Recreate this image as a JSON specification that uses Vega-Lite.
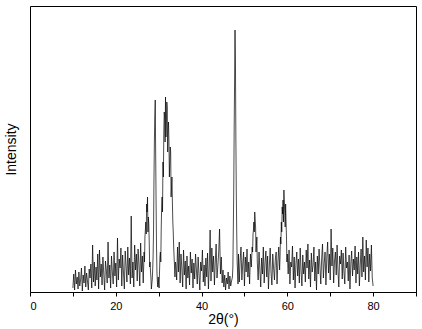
{
  "$schema": "https://vega.github.io/schema/vega-lite/v6.json",
  "width": 386,
  "height": 286,
  "autosize": {"type": "none"},
  "padding": {"left": 30, "top": 6, "right": 6, "bottom": 37},
  "background": "white",
  "config": {
    "view": {"stroke": "black", "strokeWidth": 1},
    "font": "Liberation Sans"
  },
  "data": {"values": [
    {"x":10.0,"y":4},{"x":10.2,"y":18},{"x":10.4,"y":2},{"x":10.6,"y":22},{"x":10.8,"y":8},
    {"x":11.0,"y":15},{"x":11.2,"y":3},{"x":11.4,"y":20},{"x":11.6,"y":6},{"x":11.8,"y":12},
    {"x":12.0,"y":24},{"x":12.2,"y":1},{"x":12.4,"y":17},{"x":12.6,"y":9},{"x":12.8,"y":26},
    {"x":13.0,"y":5},{"x":13.2,"y":19},{"x":13.4,"y":11},{"x":13.6,"y":2},{"x":13.8,"y":23},
    {"x":14.0,"y":14},{"x":14.2,"y":28},{"x":14.4,"y":4},{"x":14.6,"y":47},{"x":14.8,"y":10},
    {"x":15.0,"y":30},{"x":15.2,"y":6},{"x":15.4,"y":25},{"x":15.6,"y":12},{"x":15.8,"y":38},
    {"x":16.0,"y":3},{"x":16.2,"y":42},{"x":16.4,"y":15},{"x":16.6,"y":28},{"x":16.8,"y":7},
    {"x":17.0,"y":35},{"x":17.2,"y":18},{"x":17.4,"y":2},{"x":17.6,"y":31},{"x":17.8,"y":22},
    {"x":18.0,"y":9},{"x":18.2,"y":50},{"x":18.4,"y":14},{"x":18.6,"y":27},{"x":18.8,"y":4},
    {"x":19.0,"y":36},{"x":19.2,"y":20},{"x":19.4,"y":8},{"x":19.6,"y":40},{"x":19.8,"y":16},
    {"x":20.0,"y":29},{"x":20.2,"y":5},{"x":20.4,"y":54},{"x":20.6,"y":12},{"x":20.8,"y":33},
    {"x":21.0,"y":24},{"x":21.2,"y":44},{"x":21.4,"y":6},{"x":21.6,"y":37},{"x":21.8,"y":19},
    {"x":22.0,"y":3},{"x":22.2,"y":41},{"x":22.4,"y":26},{"x":22.6,"y":10},{"x":22.8,"y":45},
    {"x":23.0,"y":17},{"x":23.2,"y":34},{"x":23.4,"y":8},{"x":23.6,"y":76},{"x":23.8,"y":14},
    {"x":24.0,"y":30},{"x":24.2,"y":5},{"x":24.4,"y":47},{"x":24.6,"y":22},{"x":24.8,"y":38},
    {"x":25.0,"y":11},{"x":25.2,"y":43},{"x":25.4,"y":27},{"x":25.6,"y":6},{"x":25.8,"y":49},
    {"x":26.0,"y":20},{"x":26.2,"y":36},{"x":26.4,"y":9},{"x":26.6,"y":40},{"x":26.7,"y":30},{"x":26.8,"y":55},{"x":26.9,"y":62},
    {"x":27.0,"y":70},{"x":27.1,"y":58},{"x":27.2,"y":88},{"x":27.3,"y":80},{"x":27.4,"y":95},{"x":27.5,"y":60},{"x":27.6,"y":75},{"x":27.7,"y":68},{"x":27.8,"y":50},{"x":27.9,"y":25},
    {"x":28.0,"y":30},{"x":28.1,"y":20},{"x":28.2,"y":14},{"x":28.3,"y":3},{"x":28.4,"y":8},{"x":28.5,"y":12},{"x":28.6,"y":22},{"x":28.7,"y":35},{"x":28.8,"y":60},{"x":28.9,"y":110},
    {"x":29.0,"y":150},{"x":29.1,"y":175},{"x":29.2,"y":192},{"x":29.3,"y":140},{"x":29.4,"y":90},{"x":29.5,"y":45},{"x":29.6,"y":20},{"x":29.7,"y":10},{"x":29.8,"y":5},{"x":29.9,"y":15},
    {"x":30.0,"y":8},{"x":30.1,"y":4},{"x":30.2,"y":20},{"x":30.3,"y":35},{"x":30.4,"y":40},{"x":30.5,"y":30},{"x":30.6,"y":65},{"x":30.7,"y":85},{"x":30.8,"y":95},{"x":30.9,"y":80},
    {"x":31.0,"y":130},{"x":31.1,"y":115},{"x":31.2,"y":160},{"x":31.3,"y":180},{"x":31.4,"y":175},{"x":31.5,"y":150},{"x":31.6,"y":195},{"x":31.7,"y":155},{"x":31.8,"y":170},{"x":31.9,"y":190},
    {"x":32.0,"y":185},{"x":32.1,"y":140},{"x":32.2,"y":160},{"x":32.3,"y":170},{"x":32.4,"y":150},{"x":32.5,"y":115},{"x":32.6,"y":130},{"x":32.7,"y":145},{"x":32.8,"y":140},{"x":32.9,"y":95},
    {"x":33.0,"y":105},{"x":33.1,"y":115},{"x":33.2,"y":90},{"x":33.3,"y":70},{"x":33.4,"y":60},{"x":33.5,"y":45},{"x":33.6,"y":35},{"x":33.7,"y":25},{"x":33.8,"y":15},{"x":33.9,"y":30},
    {"x":34.0,"y":28},{"x":34.2,"y":12},{"x":34.4,"y":45},{"x":34.6,"y":20},{"x":34.8,"y":50},
    {"x":35.0,"y":9},{"x":35.2,"y":38},{"x":35.4,"y":24},{"x":35.6,"y":5},{"x":35.8,"y":42},
    {"x":36.0,"y":17},{"x":36.2,"y":31},{"x":36.4,"y":3},{"x":36.6,"y":36},{"x":36.8,"y":14},
    {"x":37.0,"y":26},{"x":37.2,"y":7},{"x":37.4,"y":40},{"x":37.6,"y":19},{"x":37.8,"y":33},
    {"x":38.0,"y":4},{"x":38.2,"y":29},{"x":38.4,"y":13},{"x":38.6,"y":38},{"x":38.8,"y":22},
    {"x":39.0,"y":8},{"x":39.2,"y":35},{"x":39.4,"y":18},{"x":39.6,"y":2},{"x":39.8,"y":30},
    {"x":40.0,"y":21},{"x":40.2,"y":42},{"x":40.4,"y":10},{"x":40.6,"y":27},{"x":40.8,"y":6},
    {"x":41.0,"y":34},{"x":41.2,"y":15},{"x":41.4,"y":39},{"x":41.6,"y":3},{"x":41.8,"y":25},
    {"x":42.0,"y":62},{"x":42.2,"y":11},{"x":42.4,"y":44},{"x":42.6,"y":20},{"x":42.8,"y":36},
    {"x":43.0,"y":7},{"x":43.2,"y":30},{"x":43.4,"y":48},{"x":43.6,"y":14},{"x":43.8,"y":26},
    {"x":44.0,"y":40},{"x":44.2,"y":63},{"x":44.4,"y":18},{"x":44.6,"y":35},{"x":44.8,"y":9},
    {"x":45.0,"y":22},{"x":45.2,"y":5},{"x":45.4,"y":17},{"x":45.6,"y":2},{"x":45.8,"y":14},
    {"x":46.0,"y":8},{"x":46.2,"y":20},{"x":46.4,"y":3},{"x":46.6,"y":16},{"x":46.8,"y":6},
    {"x":47.0,"y":11},{"x":47.2,"y":15},{"x":47.3,"y":25},{"x":47.4,"y":60},{"x":47.5,"y":100},{"x":47.6,"y":160},{"x":47.7,"y":210},{"x":47.8,"y":262},{"x":47.9,"y":230},
    {"x":48.0,"y":155},{"x":48.1,"y":100},{"x":48.2,"y":60},{"x":48.3,"y":30},{"x":48.4,"y":20},{"x":48.5,"y":8},{"x":48.6,"y":38},{"x":48.8,"y":10},
    {"x":49.0,"y":32},{"x":49.2,"y":45},{"x":49.4,"y":12},{"x":49.6,"y":28},{"x":49.8,"y":40},
    {"x":50.0,"y":6},{"x":50.2,"y":35},{"x":50.4,"y":20},{"x":50.6,"y":43},{"x":50.8,"y":15},
    {"x":51.0,"y":30},{"x":51.2,"y":8},{"x":51.4,"y":38},{"x":51.6,"y":25},{"x":51.8,"y":45},{"x":51.9,"y":40},
    {"x":52.0,"y":58},{"x":52.1,"y":62},{"x":52.2,"y":70},{"x":52.3,"y":60},{"x":52.4,"y":80},{"x":52.5,"y":72},{"x":52.6,"y":65},{"x":52.7,"y":40},{"x":52.8,"y":48},{"x":52.9,"y":55},
    {"x":53.0,"y":30},{"x":53.2,"y":12},{"x":53.4,"y":40},{"x":53.6,"y":22},{"x":53.8,"y":5},
    {"x":54.0,"y":34},{"x":54.2,"y":18},{"x":54.4,"y":45},{"x":54.6,"y":9},{"x":54.8,"y":29},
    {"x":55.0,"y":41},{"x":55.2,"y":15},{"x":55.4,"y":36},{"x":55.6,"y":3},{"x":55.8,"y":26},
    {"x":56.0,"y":44},{"x":56.2,"y":19},{"x":56.4,"y":7},{"x":56.6,"y":38},{"x":56.8,"y":24},
    {"x":57.0,"y":12},{"x":57.2,"y":33},{"x":57.4,"y":40},{"x":57.6,"y":8},{"x":57.8,"y":30},
    {"x":58.0,"y":45},{"x":58.2,"y":22},{"x":58.3,"y":35},{"x":58.4,"y":55},{"x":58.5,"y":48},{"x":58.6,"y":70},{"x":58.7,"y":60},{"x":58.8,"y":85},{"x":58.9,"y":78},
    {"x":59.0,"y":92},{"x":59.1,"y":70},{"x":59.2,"y":102},{"x":59.3,"y":90},{"x":59.4,"y":80},{"x":59.5,"y":65},{"x":59.6,"y":88},{"x":59.7,"y":70},{"x":59.8,"y":55},{"x":59.9,"y":30},
    {"x":60.0,"y":38},{"x":60.2,"y":18},{"x":60.4,"y":42},{"x":60.6,"y":8},{"x":60.8,"y":30},
    {"x":61.0,"y":25},{"x":61.2,"y":46},{"x":61.4,"y":12},{"x":61.6,"y":35},{"x":61.8,"y":4},
    {"x":62.0,"y":28},{"x":62.2,"y":40},{"x":62.4,"y":16},{"x":62.6,"y":33},{"x":62.8,"y":9},
    {"x":63.0,"y":44},{"x":63.2,"y":21},{"x":63.4,"y":6},{"x":63.6,"y":37},{"x":63.8,"y":18},
    {"x":64.0,"y":30},{"x":64.2,"y":10},{"x":64.4,"y":42},{"x":64.6,"y":24},{"x":64.8,"y":48},
    {"x":65.0,"y":13},{"x":65.2,"y":32},{"x":65.4,"y":5},{"x":65.6,"y":39},{"x":65.8,"y":20},
    {"x":66.0,"y":27},{"x":66.2,"y":45},{"x":66.4,"y":11},{"x":66.6,"y":30},{"x":66.8,"y":2},
    {"x":67.0,"y":36},{"x":67.2,"y":18},{"x":67.4,"y":43},{"x":67.6,"y":25},{"x":67.8,"y":8},
    {"x":68.0,"y":33},{"x":68.2,"y":48},{"x":68.4,"y":14},{"x":68.6,"y":29},{"x":68.8,"y":40},
    {"x":69.0,"y":7},{"x":69.2,"y":35},{"x":69.4,"y":50},{"x":69.6,"y":19},{"x":69.8,"y":38},
    {"x":70.0,"y":12},{"x":70.2,"y":63},{"x":70.4,"y":26},{"x":70.6,"y":44},{"x":70.8,"y":9},
    {"x":71.0,"y":31},{"x":71.2,"y":40},{"x":71.4,"y":17},{"x":71.6,"y":47},{"x":71.8,"y":22},
    {"x":72.0,"y":5},{"x":72.2,"y":36},{"x":72.4,"y":28},{"x":72.6,"y":42},{"x":72.8,"y":13},
    {"x":73.0,"y":39},{"x":73.2,"y":20},{"x":73.4,"y":8},{"x":73.6,"y":45},{"x":73.8,"y":24},
    {"x":74.0,"y":30},{"x":74.2,"y":11},{"x":74.4,"y":37},{"x":74.6,"y":3},{"x":74.8,"y":28},
    {"x":75.0,"y":41},{"x":75.2,"y":16},{"x":75.4,"y":33},{"x":75.6,"y":22},{"x":75.8,"y":46},
    {"x":76.0,"y":9},{"x":76.2,"y":35},{"x":76.4,"y":18},{"x":76.6,"y":40},{"x":76.8,"y":6},
    {"x":77.0,"y":27},{"x":77.2,"y":43},{"x":77.4,"y":15},{"x":77.6,"y":55},{"x":77.8,"y":20},
    {"x":78.0,"y":36},{"x":78.2,"y":12},{"x":78.4,"y":52},{"x":78.6,"y":25},{"x":78.8,"y":44},
    {"x":79.0,"y":10},{"x":79.2,"y":38},{"x":79.4,"y":21},{"x":79.6,"y":47},{"x":79.8,"y":14},
    {"x":80.0,"y":6}
  ]},
  "mark": {"type": "line", "color": "black", "strokeWidth": 0.7, "interpolate": "linear"},
  "encoding": {
    "x": {
      "field": "x", "type": "quantitative",
      "scale": {"domain": [0, 90], "nice": false, "zero": false},
      "axis": {
        "title": "2θ(°)",
        "values": [0, 10, 20, 30, 40, 50, 60, 70, 80, 90],
        "labelExpr": "(datum.value % 20 == 0 && datum.value < 90) ? datum.label : ''",
        "grid": false,
        "domainColor": "black",
        "tickColor": "black",
        "tickSize": 4,
        "labelPadding": 4,
        "labelFontSize": 11,
        "labelColor": "black",
        "labelFont": "Liberation Sans",
        "titleFont": "Liberation Sans",
        "titleFontSize": 14,
        "titleFontWeight": "normal",
        "titleColor": "black",
        "titlePadding": 1
      }
    },
    "y": {
      "field": "y", "type": "quantitative",
      "scale": {"domain": [0, 286], "nice": false},
      "axis": {
        "title": "Intensity",
        "labels": false,
        "ticks": false,
        "grid": false,
        "domain": false,
        "titleFont": "Liberation Sans",
        "titleFontSize": 14,
        "titleFontWeight": "normal",
        "titleColor": "black",
        "titlePadding": 12
      }
    }
  }
}
